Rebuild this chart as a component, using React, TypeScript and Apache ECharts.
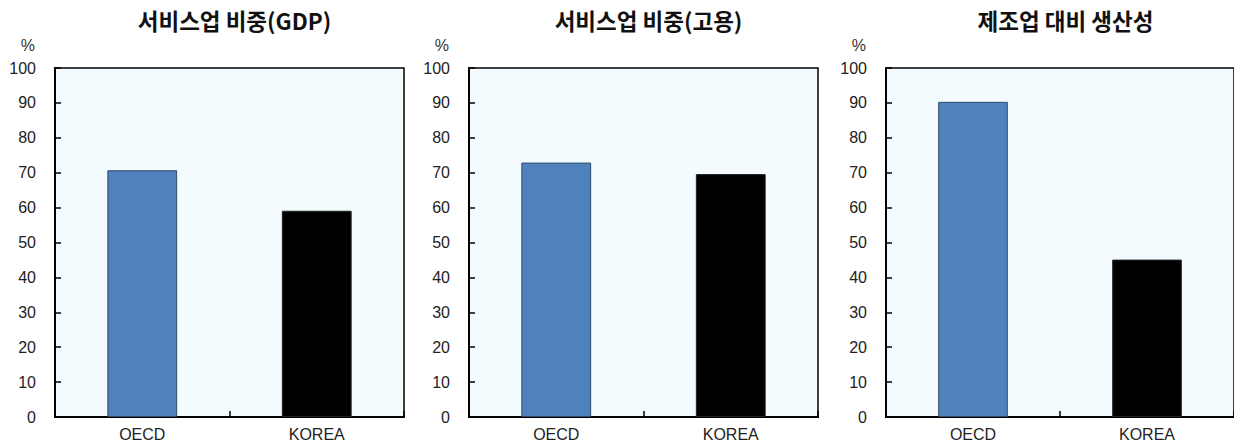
import React, { useEffect, useRef } from "react";
import * as echarts from "echarts";

const categories = ["OECD", "KOREA"];
const titles = ["서비스업 비중(GDP)", "서비스업 비중(고용)", "제조업 대비 생산성"];
const gdpShare = [70.7, 59.1];
const employmentShare = [72.9, 69.6];
const relativeProductivity = [90.3, 45.1];
const yTicks = [0, 10, 20, 30, 40, 50, 60, 70, 80, 90, 100];
const unitLabel = "%";

const panels = [gdpShare, employmentShare, relativeProductivity];
const barColors = ["#4F81BD", "#000000"];
const barBorders = ["#2E4A6B", "#222222"];

const gridLefts = [55, 469, 886];
const gridTop = 68;
const gridSize = 349;

const sans = "'Liberation Sans', Arial, sans-serif";

export default function App() {
  const ref = useRef<HTMLDivElement>(null);
  useEffect(() => {
    document.body.style.margin = "0";
    const chart = echarts.init(ref.current!, undefined, { renderer: "svg" });
    const option: any = {
      animation: false,
      backgroundColor: "#ffffff",
      title: titles.map((t, i) => ({
        text: t,
        left: gridLefts[i] + gridSize / 2,
        top: 4,
        textAlign: "center",
        textStyle: {
          fontFamily: "'Noto Sans CJK KR', 'Noto Sans', sans-serif",
          fontWeight: "bold",
          fontSize: 22.5,
          color: "#111111",
        },
      })),
      grid: gridLefts.map((l) => ({
        left: l,
        top: gridTop,
        width: gridSize,
        height: gridSize,
        show: true,
        backgroundColor: "#F3FBFE",
        borderColor: "#000000",
        borderWidth: 1.5,
        containLabel: false,
      })),
      xAxis: gridLefts.map((_, i) => ({
        type: "category",
        gridIndex: i,
        data: categories,
        axisLine: { show: true, lineStyle: { color: "#000000", width: 2 } },
        axisTick: { show: true, inside: true, length: 6, lineStyle: { color: "#000000", width: 1.5 } },
        axisLabel: { margin: 9, fontSize: 16, fontFamily: sans, color: "#222222" },
        splitLine: { show: false },
      })),
      yAxis: gridLefts.map((_, i) => ({
        type: "value",
        gridIndex: i,
        min: yTicks[0],
        max: yTicks[yTicks.length - 1],
        interval: yTicks[1] - yTicks[0],
        name: unitLabel,
        nameLocation: "end",
        nameGap: 15,
        nameTextStyle: { align: "right", padding: [0, 20, 0, 0], fontSize: 16, fontFamily: sans, color: "#333333" },
        axisLine: { show: true, lineStyle: { color: "#000000", width: 2 } },
        axisTick: { show: true, inside: true, length: 6, lineStyle: { color: "#000000", width: 1.5 } },
        axisLabel: { margin: 19, fontSize: 16, fontFamily: sans, color: "#222222" },
        splitLine: { show: false },
      })),
      series: panels.map((vals, i) => ({
        type: "bar",
        xAxisIndex: i,
        yAxisIndex: i,
        barWidth: "40%",
        data: vals.map((v, j) => ({
          value: v,
          itemStyle: { color: barColors[j], borderColor: barBorders[j], borderWidth: 1 },
        })),
      })),
    };
    chart.setOption(option);
    return () => chart.dispose();
  }, []);
  return <div ref={ref} style={{ position: "absolute", left: 0, top: 0, width: 1234, height: 443 }} />;
}
